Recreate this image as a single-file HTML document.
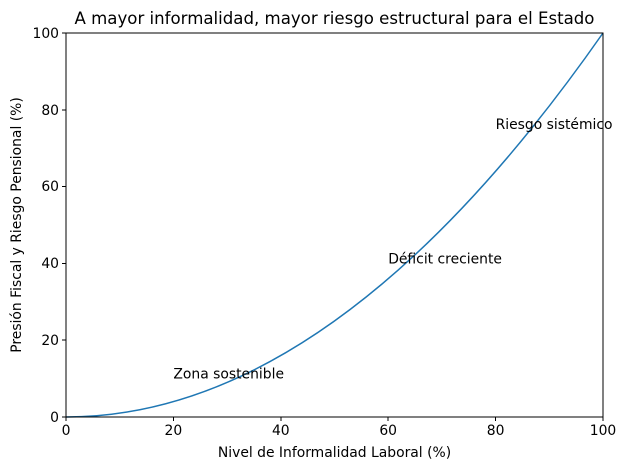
<!DOCTYPE html>
<html><head><meta charset="utf-8"><style>
html,body{margin:0;padding:0;background:#fff;}
svg{display:block;font-family:"DejaVu Sans","Liberation Sans",sans-serif;}
</style></head><body>
<svg width="625" height="470" viewBox="0 0 625 470" xmlns="http://www.w3.org/2000/svg">
<rect width="625" height="470" fill="#fff"/>
<path d="M66,417 Q334.5,417 603,33" fill="none" stroke="#1f77b4" stroke-width="1.5"/>
<rect x="66" y="33" width="537" height="384" fill="none" stroke="#000" stroke-width="1" shape-rendering="crispEdges"/>
<g stroke="#000" stroke-width="1" shape-rendering="crispEdges">
<line x1="66" y1="417" x2="66" y2="421"/><line x1="173.4" y1="417" x2="173.4" y2="421"/><line x1="280.8" y1="417" x2="280.8" y2="421"/><line x1="388.2" y1="417" x2="388.2" y2="421"/><line x1="495.6" y1="417" x2="495.6" y2="421"/><line x1="603" y1="417" x2="603" y2="421"/>
<line x1="62" y1="417" x2="66" y2="417"/><line x1="62" y1="340.2" x2="66" y2="340.2"/><line x1="62" y1="263.4" x2="66" y2="263.4"/><line x1="62" y1="186.6" x2="66" y2="186.6"/><line x1="62" y1="109.8" x2="66" y2="109.8"/><line x1="62" y1="33" x2="66" y2="33"/>
</g>
<g font-size="13.9" fill="#000" text-anchor="middle">
<text x="66" y="435">0</text><text x="173.4" y="435">20</text><text x="280.8" y="435">40</text><text x="388.2" y="435">60</text><text x="495.6" y="435">80</text><text x="603" y="435">100</text>
</g>
<g font-size="13.9" fill="#000" text-anchor="end">
<text x="59" y="422">0</text><text x="59" y="345">20</text><text x="59" y="268">40</text><text x="59" y="191">60</text><text x="59" y="115">80</text><text x="59" y="38">100</text>
</g>
<text x="334.5" y="457" font-size="13.9" text-anchor="middle">Nivel de Informalidad Laboral (%)</text>
<text transform="translate(21,225) rotate(-90)" font-size="13.9" text-anchor="middle">Presión Fiscal y Riesgo Pensional (%)</text>
<text x="334.5" y="24" font-size="16.6" text-anchor="middle">A mayor informalidad, mayor riesgo estructural para el Estado</text>
<g font-size="13.9">
<text x="173.4" y="378.6">Zona sostenible</text>
<text x="388.2" y="263.4">Déficit creciente</text>
<text x="495.6" y="129">Riesgo sistémico</text>
</g>
</svg>
</body></html>
